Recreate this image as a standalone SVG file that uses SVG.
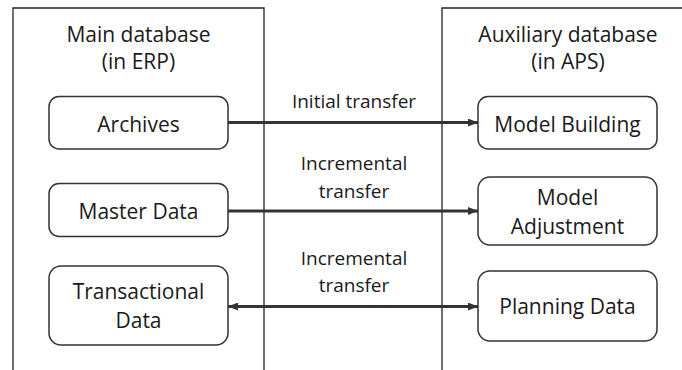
<svg xmlns="http://www.w3.org/2000/svg" width="682" height="370" viewBox="0 0 682 370">
  <style>
    .frame { fill: none; stroke: #222; stroke-width: 1.3; }
    .box { fill: #fff; stroke: #333; stroke-width: 1.5; }
    .title, .label, .note { font-family: "Open Sans", "Noto Sans", sans-serif; fill: #1a1a1a; text-anchor: middle; }
    .title, .label { font-size: 21px; }
    .note { font-size: 19px; }
    .link { fill: none; stroke: #333; stroke-width: 3; }
  </style>
  <defs>
    <marker id="head" viewBox="0 0 10 8" refX="10" refY="4" markerWidth="10" markerHeight="8" markerUnits="userSpaceOnUse" orient="auto-start-reverse">
      <path d="M0,0 L10,4 L0,8 Z" fill="#333"/>
    </marker>
  </defs>

  <rect width="682" height="370" fill="#fff"/>

  <!-- database containers (open at the bottom) -->
  <g id="main-db">
    <path class="frame" d="M13,370 V8 H264 V370"/>
    <text class="title" x="138.5" y="42">Main database</text>
    <text class="title" x="138.5" y="69">(in ERP)</text>
  </g>
  <g id="aux-db">
    <path class="frame" d="M442,370 V8 H690"/>
    <text class="title" x="568" y="42">Auxiliary database</text>
    <text class="title" x="568" y="69">(in APS)</text>
  </g>

  <!-- main database nodes -->
  <g id="archives">
    <rect class="box" x="49" y="96.5" width="179" height="52.5" rx="10"/>
    <text class="label" x="138.5" y="131.5">Archives</text>
  </g>
  <g id="master-data">
    <rect class="box" x="49" y="183.5" width="179" height="53" rx="10"/>
    <text class="label" x="138.5" y="218.5">Master Data</text>
  </g>
  <g id="transactional-data">
    <rect class="box" x="49" y="266" width="179" height="79" rx="12"/>
    <text class="label" x="138.5" y="298.5">Transactional</text>
    <text class="label" x="138.5" y="327.5">Data</text>
  </g>

  <!-- auxiliary database nodes -->
  <g id="model-building">
    <rect class="box" x="478" y="96.5" width="179" height="52.5" rx="10"/>
    <text class="label" x="567.5" y="131.5">Model Building</text>
  </g>
  <g id="model-adjustment">
    <rect class="box" x="478" y="177" width="179" height="68" rx="12"/>
    <text class="label" x="567.5" y="204.5">Model</text>
    <text class="label" x="567.5" y="233.5">Adjustment</text>
  </g>
  <g id="planning-data">
    <rect class="box" x="478" y="271" width="179" height="70" rx="12"/>
    <text class="label" x="567.5" y="313.5">Planning Data</text>
  </g>

  <!-- transfers between the databases -->
  <g id="connectors">
    <line class="link" x1="228" y1="122.5" x2="478" y2="122.5" marker-end="url(#head)"/>
    <line class="link" x1="228" y1="211" x2="478" y2="211" marker-end="url(#head)"/>
    <line class="link" x1="228" y1="306.5" x2="478" y2="306.5" marker-start="url(#head)" marker-end="url(#head)"/>
    <text class="note" x="354" y="108">Initial transfer</text>
    <text class="note" x="354" y="170">Incremental</text>
    <text class="note" x="354" y="197.5">transfer</text>
    <text class="note" x="354" y="264.5">Incremental</text>
    <text class="note" x="354" y="292">transfer</text>
  </g>
</svg>
